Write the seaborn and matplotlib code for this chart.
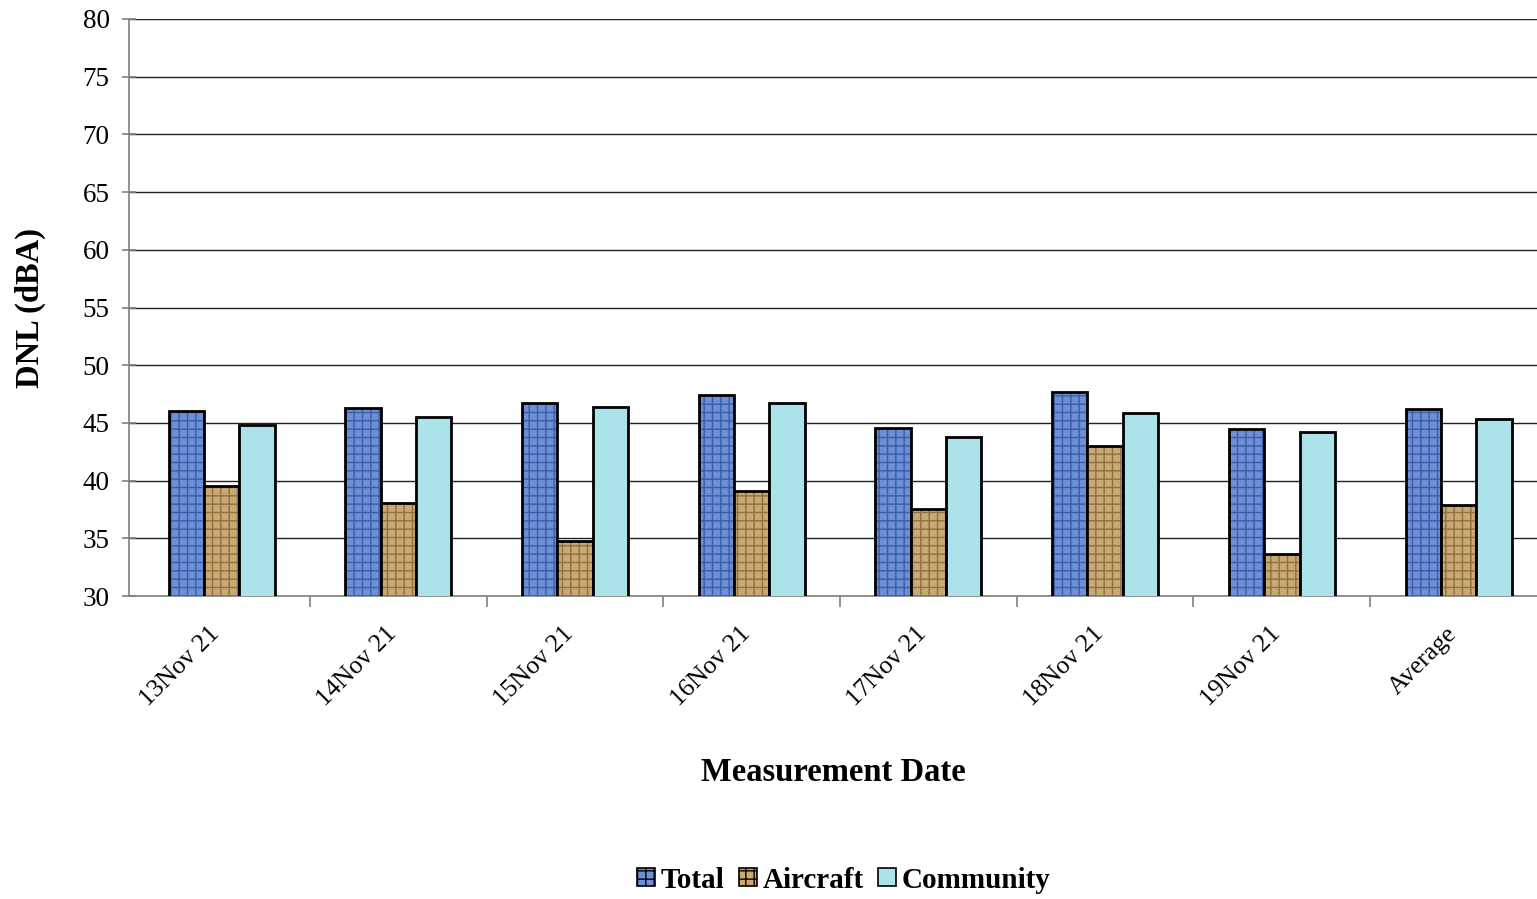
import matplotlib
matplotlib.use("Agg")
import matplotlib.pyplot as plt
import matplotlib.colors as mcolors
import matplotlib.transforms as mtransforms
import seaborn as sns
import pandas as pd
from matplotlib.patches import Patch

dates = ["13Nov 21", "14Nov 21", "15Nov 21", "16Nov 21", "17Nov 21",
         "18Nov 21", "19Nov 21", "Average"]
total = [46.0, 46.3, 46.7, 47.4, 44.6, 47.7, 44.5, 46.2]
aircraft = [39.5, 38.1, 34.8, 39.1, 37.5, 43.0, 33.6, 37.9]
community = [44.8, 45.5, 46.4, 46.7, 43.8, 45.9, 44.2, 45.3]
series = ["Total", "Aircraft", "Community"]

df = pd.DataFrame({
    "date": dates * 3,
    "DNL": total + aircraft + community,
    "source": [s for s in series for _ in dates],
})

sns.set_theme(style="white")
plt.rcParams["font.family"] = ["Liberation Serif", "DejaVu Serif"]
for key in ["text.color", "axes.labelcolor", "xtick.color", "ytick.color"]:
    plt.rcParams[key] = "black"

colors = {"Total": "#6c8fd6", "Aircraft": "#c9a874", "Community": "#ace2ea"}
hatch_cols = {"Total": "#3a5ea8", "Aircraft": "#8f7040", "Community": "#8fcfd8"}
hatches = {"Total": "++", "Aircraft": "++", "Community": ""}

fig = plt.figure(figsize=(15.37, 8.99), dpi=100)
ax = fig.add_axes([129 / 1537, 1 - 596 / 899, 1408 / 1537, 577 / 899])

sns.barplot(data=df, x="date", y="DNL", hue="source", order=dates,
            hue_order=series, palette=colors, width=0.6, gap=0,
            edgecolor="black", linewidth=2.0, ax=ax, legend=False,
            saturation=1)

# texture each series
n = len(dates)
for i, s in enumerate(series):
    for bar in ax.patches[i * n:(i + 1) * n]:
        bar.set_hatch(hatches[s])
        bar.set_zorder(3)
        bar._hatch_color = mcolors.to_rgba(hatch_cols[s])

ax.set_ylim(30, 80)
ax.set_xlim(-0.524, 7.444)
ax.set_yticks(range(30, 81, 5))
ax.yaxis.grid(True, color="#222222", linewidth=1.0)
ax.set_axisbelow(True)

for side in ["top", "right"]:
    ax.spines[side].set_visible(False)
for side in ["left", "bottom"]:
    ax.spines[side].set_color("#808080")
    ax.spines[side].set_linewidth(1.2)

ax.tick_params(axis="y", which="major", left=True, direction="inout",
               length=10, width=1.2, color="#808080", labelsize=19.5,
               labelcolor="black", pad=9)
ax.set_xticks(range(n))
ax.set_xticks([i + 0.5 for i in range(n - 1)], minor=True)
ax.tick_params(axis="x", which="major", length=0, pad=25)
ax.tick_params(axis="x", which="minor", bottom=True, direction="out",
               length=8, width=1.2, color="#808080")
ax.set_xticklabels(dates, rotation=45, ha="right", va="center",
                   rotation_mode="anchor", fontsize=18.5)
shift = mtransforms.ScaledTranslation(-5 / 100, 0, fig.dpi_scale_trans)
for lbl in ax.get_xticklabels():
    lbl.set_transform(lbl.get_transform() + shift)

ax.set_xlabel("Measurement Date", fontsize=23.5, fontweight="bold", labelpad=33)
ax.set_ylabel("DNL (dBA)", fontsize=23.5, fontweight="bold", labelpad=26)

handles = [Patch(facecolor=colors[s], edgecolor="black", linewidth=1.2,
                 hatch=hatches[s]) for s in series]
fig.legend(handles, series, loc="center", bbox_to_anchor=(0.549, 1 - 880 / 899),
           ncol=3, frameon=False, prop={"size": 21, "weight": "bold"},
           handlelength=0.6, handleheight=0.6, handletextpad=0.2,
           columnspacing=0.5)

fig.savefig("out.png", dpi=100)
